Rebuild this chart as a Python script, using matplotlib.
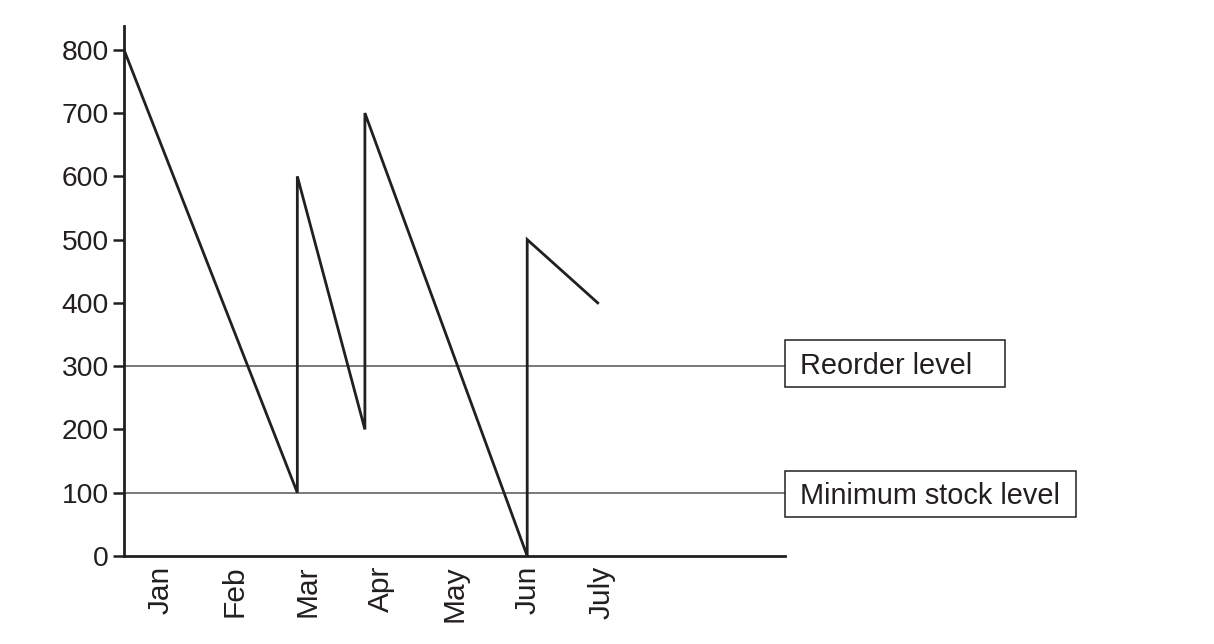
import matplotlib
matplotlib.use("Agg")
import matplotlib.pyplot as plt
from matplotlib.patches import Rectangle

# stock level over time (x in months from start of Jan)
months = ["Jan", "Feb", "Mar", "Apr", "May", "Jun", "July"]
stock_x = [0, 2.36, 2.36, 3.28, 3.28, 5.49, 5.49, 6.45]
stock_y = [800, 100, 600, 200, 700, 0, 500, 400]
reorder_level = 300
minimum_level = 100
y_ticks = [0, 100, 200, 300, 400, 500, 600, 700, 800]

plt.rcParams['font.family'] = ['Liberation Sans', 'DejaVu Sans']
ink = '#231f20'

fig = plt.figure(figsize=(12.14, 6.44), dpi=100)
ax = fig.add_axes([124/1214, 88/644, 661/1214, (556-25.7)/644])

ax.axhline(reorder_level, color='#555555', lw=1.1, zorder=1)
ax.axhline(minimum_level, color='#555555', lw=1.1, zorder=1)
ax.plot(stock_x, stock_y, color=ink, lw=2, solid_joinstyle='miter', zorder=3)

ax.set_xlim(0, 9)
ax.set_ylim(0, 838)
ax.set_yticks(y_ticks)
ax.set_yticklabels([str(v) for v in y_ticks], fontsize=20.3, color=ink)
ax.tick_params(axis='y', length=8, width=1.8, color=ink, pad=3)
ax.set_xticks([i + 0.5 for i in range(len(months))])
ax.set_xticklabels(months, rotation=90, fontsize=21.5, color=ink)
ax.tick_params(axis='x', length=0, pad=7)

for s in ['top', 'right']:
    ax.spines[s].set_visible(False)
for s in ['left', 'bottom']:
    ax.spines[s].set_linewidth(2)
    ax.spines[s].set_color(ink)

# label boxes: x in axes fraction, y in data units
trans = ax.get_yaxis_transform()
boxes = [("Reorder level", 267.5, 341.2, 0.333),
         ("Minimum stock level", 62.0, 134.7, 0.44)]
for label, y0, y1, w in boxes:
    ax.add_patch(Rectangle((1.0, y0), w, y1 - y0, transform=trans, fc='white',
                           ec=ink, lw=1.1, clip_on=False, zorder=4))
    ax.text(1.0227, (y0 + y1) / 2 - 4, label, transform=trans, ha='left', va='center',
            fontsize=20.8, color=ink, zorder=5)

fig.savefig('out.png', dpi=100)
